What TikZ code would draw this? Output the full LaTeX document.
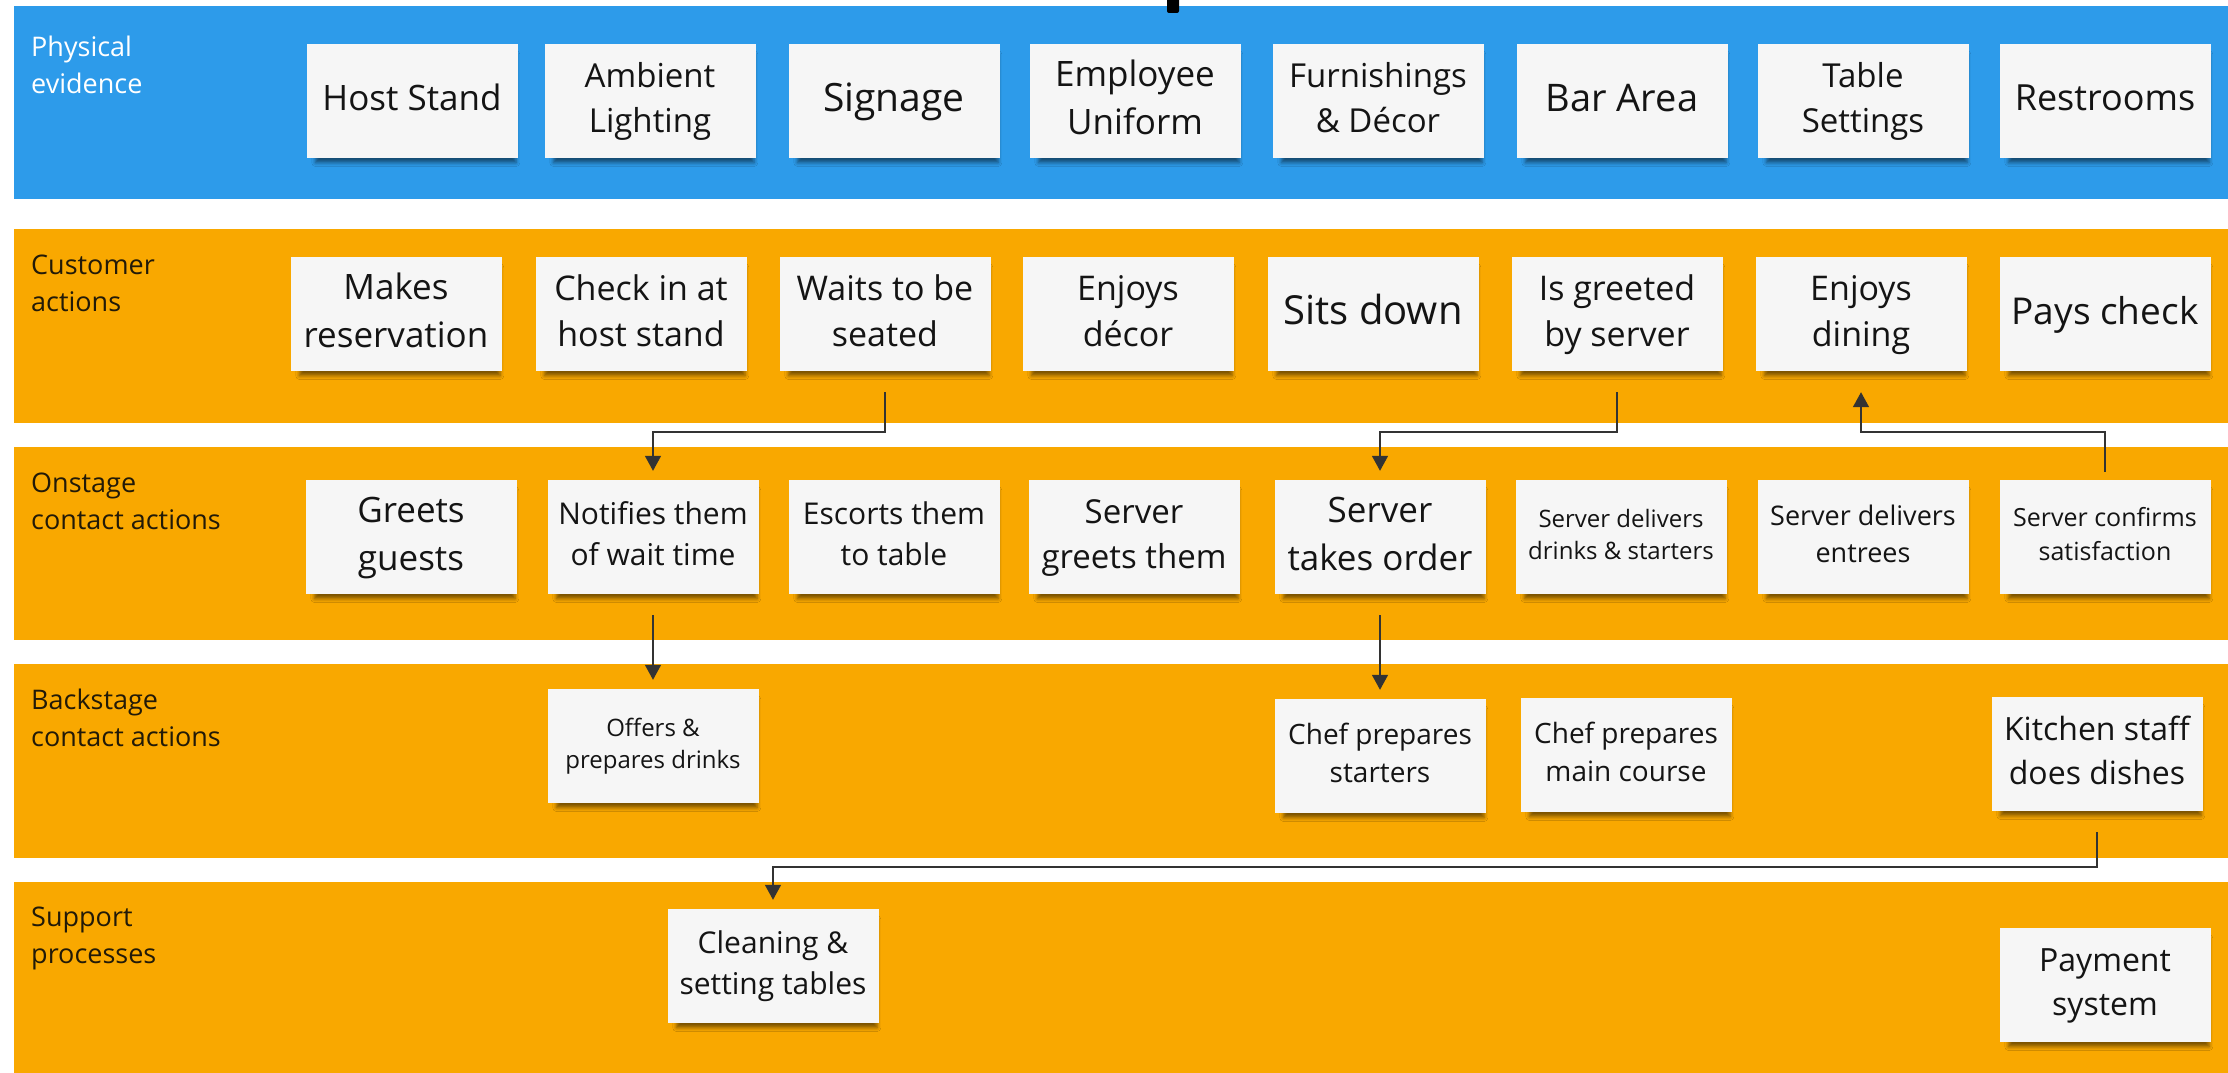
\documentclass[tikz,border=0pt]{standalone}
\usepackage{fontspec}
\setmainfont{Open Sans}
\usetikzlibrary{arrows.meta,shadows,shadows.blur}
\definecolor{bandblue}{HTML}{2D9BEA}
\definecolor{bandorange}{HTML}{F9A800}
\definecolor{notefill}{HTML}{F6F6F6}
\definecolor{notetext}{HTML}{141414}
\definecolor{labeldark}{HTML}{221A08}
\definecolor{linkcol}{HTML}{333333}
\newcommand\nfs[1]{\fontsize{#1pt}{\dimexpr #1pt*136/100\relax}\selectfont}
\newcommand\nt[2][4pt]{\raisebox{#1}{\begin{tabular}{@{}c@{}}#2\end{tabular}}}
\begin{document}
\begin{tikzpicture}[x=1pt,y=-1pt,
  bandlabel/.style={anchor=north west, align=left, text=labeldark, font=\nfs{27}, inner sep=0pt},
  note/.style={fill=notefill, minimum width=211pt, minimum height=114pt, inner sep=2pt,
     text=notetext, font=\nfs{#1},
     blur shadow={shadow xshift=4pt, shadow yshift=-8pt, shadow blur radius=4pt,
                  shadow opacity=50, shadow scale=0.95}},
  note/.default=35,
  link/.style={draw=linkcol, line width=1.6pt, -{Triangle[width=16pt,length=15pt]}}
]
\useasboundingbox (0,0) rectangle (2228,1073);
\fill[white] (0,0) rectangle (2228,1073);
% bands
\fill[bandblue]   (14,6)   rectangle (2228,199);
\fill[bandorange] (14,229) rectangle (2228,423);
\fill[bandorange] (14,447) rectangle (2228,640);
\fill[bandorange] (14,664) rectangle (2228,858);
\fill[bandorange] (14,882) rectangle (2228,1073);
% small black mark at top
\fill[black, rounded corners=2pt] (1167,-4) rectangle (1179,13);
% band labels
\node[bandlabel, text=white] (l1) at (31,36)  {Physical\\evidence};
\node[bandlabel] (l2) at (31,255) {Customer\\actions};
\node[bandlabel] (l3) at (31,473) {Onstage\\contact actions};
\node[bandlabel] (l4) at (31,689) {Backstage\\contact actions};
\node[bandlabel] (l5) at (31,907) {Support\\processes};
% row 1: physical evidence
\node[note=35] (hs)   at (412,101)  {\nt{Host Stand}};
\node[note=33] (amb)  at (650,101)  {\nt{Ambient\\Lighting}};
\node[note=39] (sig)  at (894,101)  {\nt{Signage}};
\node[note=35] (emp)  at (1135,101) {\nt{Employee\\Uniform}};
\node[note=33] (fur)  at (1378,101) {\nt{Furnishings\\\& Décor}};
\node[note=38] (bar)  at (1622,101) {\nt{Bar Area}};
\node[note=33] (tab)  at (1863,101) {\nt{Table\\Settings}};
\node[note=36] (rest) at (2105,101) {\nt{Restrooms}};
% row 2: customer actions
\node[note=35] (res)    at (396,314)  {\nt[6pt]{Makes\\reservation}};
\node[note=34] (chk)    at (641,314)  {\nt[6pt]{Check in at\\host stand}};
\node[note=34] (waits)  at (885,314)  {\nt[6pt]{Waits to be\\seated}};
\node[note=34] (decor)  at (1128,314) {\nt[6pt]{Enjoys\\décor}};
\node[note=40] (sits)   at (1373,314) {\nt[6pt]{Sits down}};
\node[note=34] (greet)  at (1617,314) {\nt[6pt]{Is greeted\\by server}};
\node[note=34] (dining) at (1861,314) {\nt[6pt]{Enjoys\\dining}};
\node[note=37] (pays)   at (2105,314) {\nt[6pt]{Pays check}};
% row 3: onstage contact actions
\node[note=35] (gg)      at (411,537)  {\nt[6pt]{Greets\\guests}};
\node[note=30] (notif)   at (653,537)  {\nt[7pt]{Notifies them\\of wait time}};
\node[note=30] (esc)     at (894,537)  {\nt[7pt]{Escorts them\\to table}};
\node[note=33] (sgt)     at (1134,537) {\nt[6pt]{Server\\greets them}};
\node[note=35] (order)   at (1380,537) {\nt[6pt]{Server\\takes order}};
\node[note=24] (drinks)  at (1621,537) {\nt[6pt]{Server delivers\\drinks \& starters}};
\node[note=27] (entrees) at (1863,537) {\nt[6pt]{Server delivers\\entrees}};
\node[note=25] (confirm) at (2105,537) {\nt[6pt]{Server confirms\\satisfaction}};
% row 4: backstage contact actions
\node[note=24] (offers)  at (653,746)  {\nt[9pt]{Offers \&\\prepares drinks}};
\node[note=28] (chefs)   at (1380,756) {\nt[7pt]{Chef prepares\\starters}};
\node[note=28] (chefm)   at (1626,755) {\nt[7pt]{Chef prepares\\main course}};
\node[note=32] (kitchen) at (2097,754) {\nt[5pt]{Kitchen staff\\does dishes}};
% row 5: support processes
\node[note=30] (clean) at (773,966)  {\nt[6pt]{Cleaning \&\\setting tables}};
\node[note=32] (pay)   at (2105,985) {\nt[7pt]{Payment\\system}};
% connectors
\draw[link] ([yshift=-21pt]waits.south) -- (waits.south |- 0,432) -| ([yshift=9pt]notif.north);
\draw[link] ([yshift=-21pt]greet.south) -- (greet.south |- 0,432) -| ([yshift=9pt]order.north);
\draw[link] ([yshift=8pt]confirm.north) -- (confirm.north |- 0,432) -| ([yshift=-21pt]dining.south);
\draw[link] ([yshift=-21pt]notif.south) -- ([yshift=9pt]offers.north);
\draw[link] ([yshift=-21pt]order.south) -- ([yshift=9pt]chefs.north);
\draw[link] ([yshift=-21pt]kitchen.south) -- (kitchen.south |- 0,867) -| ([yshift=9pt]clean.north);
\end{tikzpicture}
\end{document}
